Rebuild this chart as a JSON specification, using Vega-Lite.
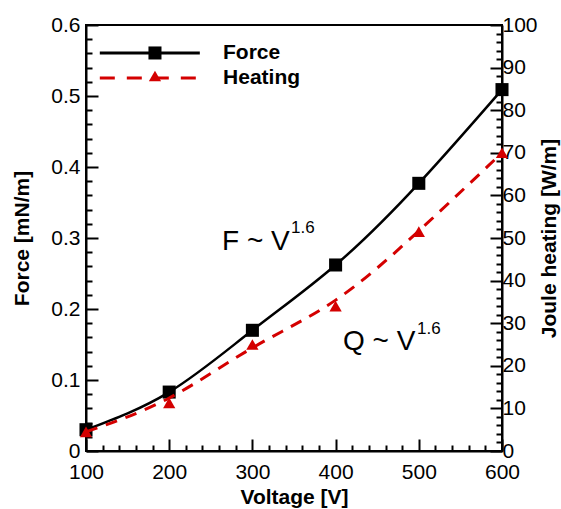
{
  "$schema": "https://vega.github.io/schema/vega-lite/v6.json",
  "width": 416,
  "height": 426,
  "autosize": {"type": "none"},
  "padding": {"left": 86, "top": 25, "right": 59, "bottom": 58},
  "background": "white",
  "config": {
    "view": {"stroke": "black", "strokeWidth": 2},
    "font": "Liberation Sans",
    "axis": {
      "grid": false,
      "domainColor": "black",
      "domainWidth": 2,
      "tickColor": "black",
      "tickWidth": 2,
      "labelColor": "black",
      "labelFont": "Liberation Sans",
      "labelFontSize": 21,
      "labelFlush": false,
      "labelOverlap": false,
      "labelBound": false,
      "titleFont": "Liberation Sans",
      "titleFontSize": 21,
      "titleFontWeight": "bold",
      "titleColor": "black"
    }
  },
  "datasets": {
    "force": [
      {"v": 100, "f": 0.030},
      {"v": 200, "f": 0.083},
      {"v": 300, "f": 0.170},
      {"v": 400, "f": 0.262},
      {"v": 500, "f": 0.377},
      {"v": 600, "f": 0.509}
    ],
    "heat": [
      {"v": 100, "q": 4.5},
      {"v": 200, "q": 11.3},
      {"v": 300, "q": 25.0},
      {"v": 400, "q": 34.0},
      {"v": 500, "q": 51.5},
      {"v": 600, "q": 70.0}
    ]
  },
  "resolve": {"scale": {"x": "independent", "y": "independent"}},
  "layer": [
    {
      "data": {"name": "force"},
      "layer": [
        {
          "mark": {"type": "line", "color": "black", "strokeWidth": 2.5, "interpolate": "natural"},
          "encoding": {
            "x": {
              "field": "v", "type": "quantitative",
              "scale": {"domain": [100, 600], "nice": false, "zero": false},
              "axis": {
                "orient": "bottom",
                "values": [100, 200, 300, 400, 500, 600],
                "format": "d",
                "tickSize": -12,
                "labelPadding": 22,
                "title": "Voltage [V]",
                "titlePadding": 4
              }
            },
            "y": {
              "field": "f", "type": "quantitative",
              "scale": {"domain": [0, 0.6], "nice": false, "zero": true},
              "axis": {
                "orient": "left",
                "values": [0, 0.1, 0.2, 0.3, 0.4, 0.5, 0.6],
                "format": ".1~f",
                "tickSize": -12,
                "labelPadding": 18,
                "title": "Force [mN/m]",
                "titlePadding": 18
              }
            }
          }
        },
        {
          "mark": {"type": "point", "shape": "square", "filled": true, "color": "black", "opacity": 1, "size": 170},
          "encoding": {
            "x": {"field": "v", "type": "quantitative"},
            "y": {"field": "f", "type": "quantitative"}
          }
        },
        {
          "data": {"values": [
            {"v": 116.6, "v2": 236.8, "f": 0.5606}
          ]},
          "mark": {"type": "rule", "color": "black", "strokeWidth": 3},
          "encoding": {
            "x": {"field": "v", "type": "quantitative"},
            "x2": {"field": "v2"},
            "y": {"field": "f", "type": "quantitative"}
          }
        },
        {
          "data": {"values": [
            {"v": 116.6, "v2": 236.8, "f": 0.5254}
          ]},
          "mark": {"type": "rule", "color": "#d40000", "strokeWidth": 3, "strokeDash": [15, 12]},
          "encoding": {
            "x": {"field": "v", "type": "quantitative"},
            "x2": {"field": "v2"},
            "y": {"field": "f", "type": "quantitative"}
          }
        },
        {
          "data": {"values": [{"v": 182.9, "f": 0.5606}]},
          "mark": {"type": "point", "shape": "square", "filled": true, "color": "black", "opacity": 1, "size": 170},
          "encoding": {
            "x": {"field": "v", "type": "quantitative"},
            "y": {"field": "f", "type": "quantitative"}
          }
        },
        {
          "data": {"values": [{"v": 182.9, "f": 0.5282}]},
          "mark": {"type": "point", "shape": "triangle-up", "filled": true, "color": "#d40000", "opacity": 1, "size": 150},
          "encoding": {
            "x": {"field": "v", "type": "quantitative"},
            "y": {"field": "f", "type": "quantitative"}
          }
        },
        {
          "data": {"values": [
            {"v": 264.7, "f": 0.5606, "t": "Force"},
            {"v": 264.7, "f": 0.5254, "t": "Heating"}
          ]},
          "mark": {"type": "text", "align": "left", "baseline": "middle", "font": "Liberation Sans", "fontSize": 21, "fontWeight": "bold", "color": "black"},
          "encoding": {
            "x": {"field": "v", "type": "quantitative"},
            "y": {"field": "f", "type": "quantitative"},
            "text": {"field": "t"}
          }
        },
        {
          "data": {"values": [
            {"v": 263.5, "f": 0.283, "t": "F ~ V"},
            {"v": 408.9, "f": 0.142, "t": "Q ~ V"}
          ]},
          "mark": {"type": "text", "align": "left", "baseline": "alphabetic", "font": "Liberation Sans", "fontSize": 28, "color": "black"},
          "encoding": {
            "x": {"field": "v", "type": "quantitative"},
            "y": {"field": "f", "type": "quantitative"},
            "text": {"field": "t"}
          }
        },
        {
          "data": {"values": [
            {"v": 346.4, "f": 0.307, "t": "1.6"},
            {"v": 497.8, "f": 0.165, "t": "1.6"}
          ]},
          "mark": {"type": "text", "align": "left", "baseline": "alphabetic", "font": "Liberation Sans", "fontSize": 17, "color": "black"},
          "encoding": {
            "x": {"field": "v", "type": "quantitative"},
            "y": {"field": "f", "type": "quantitative"},
            "text": {"field": "t"}
          }
        }
      ]
    },
    {
      "data": {"name": "heat"},
      "layer": [
        {
          "mark": {"type": "line", "color": "#d40000", "strokeWidth": 3, "strokeDash": [12, 9], "interpolate": "basis"},
          "encoding": {
            "x": {
              "field": "v", "type": "quantitative",
              "scale": {"domain": [100, 600], "nice": false, "zero": false},
              "axis": null
            },
            "y": {
              "field": "q", "type": "quantitative",
              "scale": {"domain": [0, 100], "nice": false, "zero": true},
              "axis": {
                "orient": "right",
                "values": [0, 10, 20, 30, 40, 50, 60, 70, 80, 90, 100],
                "format": "d",
                "tickSize": -12,
                "labelPadding": 12,
                "title": "Joule heating [W/m]",
                "titleAngle": 270,
                "titleBaseline": "top",
                "titlePadding": 1
              }
            }
          }
        },
        {
          "mark": {"type": "point", "shape": "triangle-up", "filled": true, "color": "#d40000", "opacity": 1, "size": 150},
          "encoding": {
            "x": {"field": "v", "type": "quantitative"},
            "y": {"field": "q", "type": "quantitative"}
          }
        }
      ]
    },
    {
      "data": {"name": "force"},
      "mark": {"type": "point", "opacity": 0},
      "encoding": {
        "x": {
          "field": "v", "type": "quantitative",
          "scale": {"domain": [100, 600], "nice": false, "zero": false},
          "axis": {
            "orient": "bottom",
            "values": [120, 140, 160, 180, 220, 240, 260, 280, 320, 340, 360, 380, 420, 440, 460, 480, 520, 540, 560, 580],
            "tickSize": -6,
            "labels": false,
            "domain": false,
            "title": null
          }
        },
        "y": {
          "field": "f", "type": "quantitative",
          "scale": {"domain": [0, 0.6], "nice": false},
          "axis": {
            "orient": "left",
            "values": [0.02, 0.04, 0.06, 0.08, 0.12, 0.14, 0.16, 0.18, 0.22, 0.24, 0.26, 0.28, 0.32, 0.34, 0.36, 0.38, 0.42, 0.44, 0.46, 0.48, 0.52, 0.54, 0.56, 0.58],
            "tickSize": -6,
            "labels": false,
            "domain": false,
            "title": null
          }
        }
      }
    },
    {
      "data": {"name": "heat"},
      "mark": {"type": "point", "opacity": 0},
      "encoding": {
        "x": {
          "field": "v", "type": "quantitative",
          "scale": {"domain": [100, 600], "nice": false, "zero": false},
          "axis": null
        },
        "y": {
          "field": "q", "type": "quantitative",
          "scale": {"domain": [0, 100], "nice": false},
          "axis": {
            "orient": "right",
            "values": [2, 4, 6, 8, 12, 14, 16, 18, 22, 24, 26, 28, 32, 34, 36, 38, 42, 44, 46, 48, 52, 54, 56, 58, 62, 64, 66, 68, 72, 74, 76, 78, 82, 84, 86, 88, 92, 94, 96, 98],
            "tickSize": -6,
            "labels": false,
            "domain": false,
            "title": null
          }
        }
      }
    }
  ]
}
